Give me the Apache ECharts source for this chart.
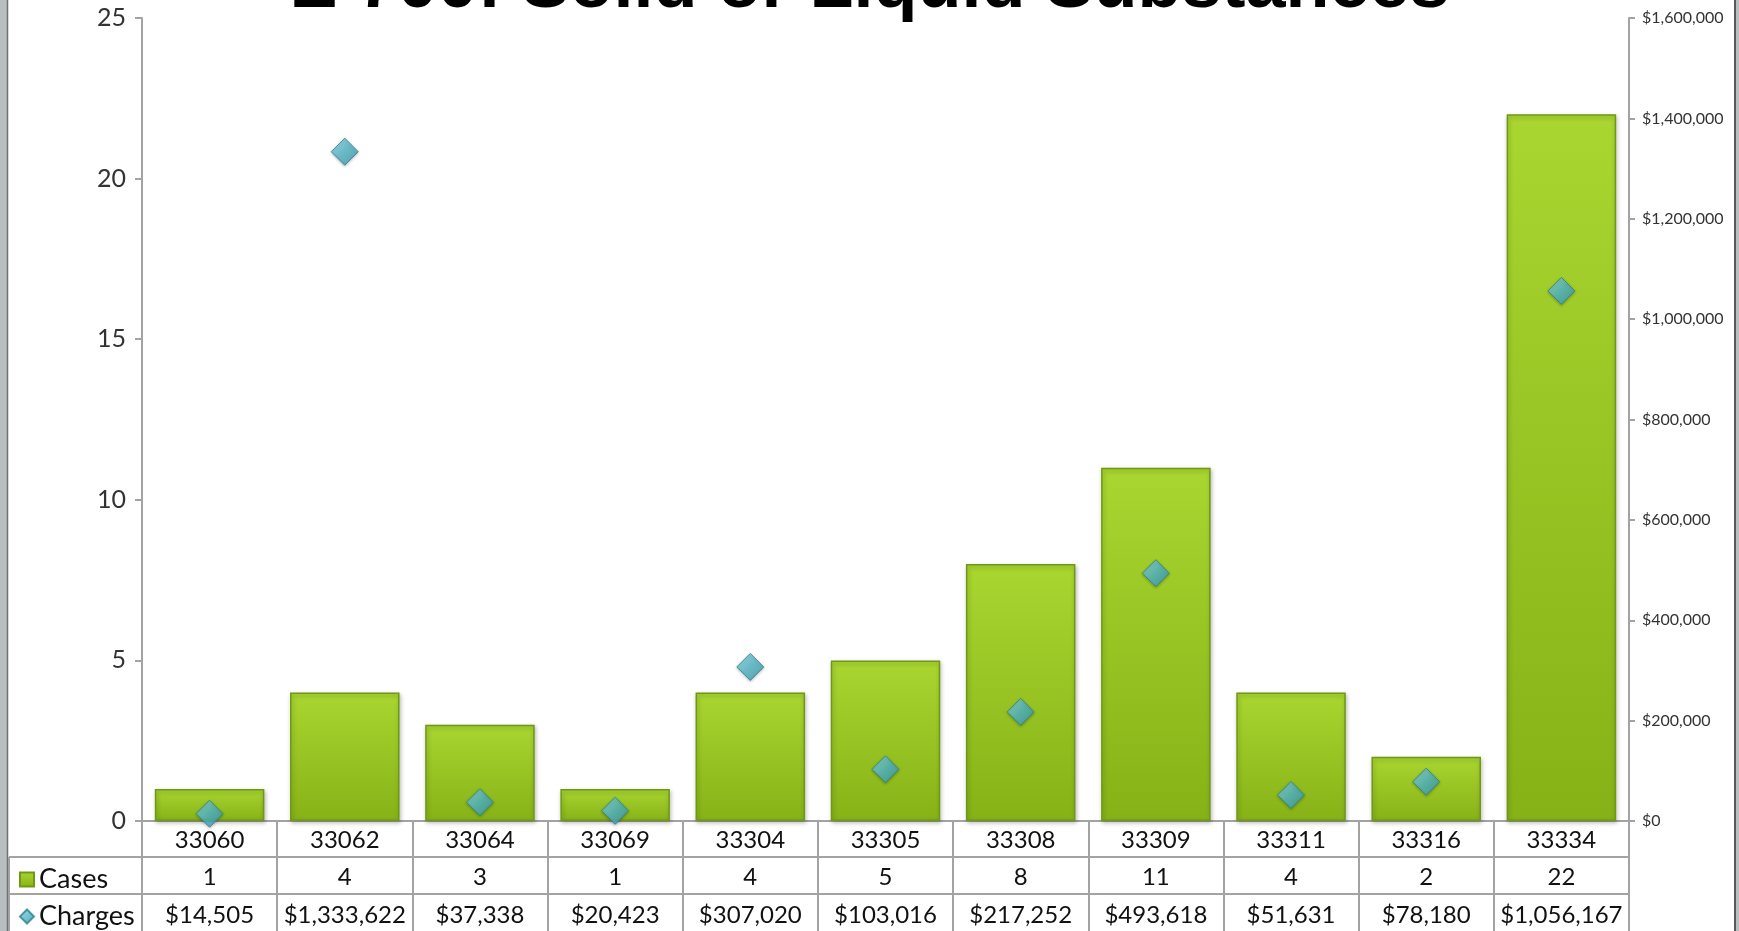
<!DOCTYPE html>
<html>
<head>
<meta charset="utf-8">
<script src="https://cdn.jsdelivr.net/npm/echarts@6/dist/echarts.min.js"></script>
<style>
html,body{margin:0;padding:0;background:#fff;}
#chart{width:1739px;height:931px;}
</style>
</head>
<body>
<div id="chart"></div>
<script>
const titleText = 'E 700: Solid or Liquid Substances';
const categories = ['33060','33062','33064','33069','33304','33305','33308','33309','33311','33316','33334'];
const cases = [1,4,3,1,4,5,8,11,4,2,22];
const charges = [14505,1333622,37338,20423,307020,103016,217252,493618,51631,78180,1056167];
const leftTicks = {min:0, max:25, interval:5};
const rightTicks = {min:0, max:1600000, interval:200000};

const fmtMoney = v => '$' + Math.round(v).toLocaleString('en-US');
const FONT = 'Lato, "Noto Sans", sans-serif';
const lineCol = '#a3a3a3';

const chart = echarts.init(document.getElementById('chart'));
const gridLeft = 142, gridRight = 1629, gridTop = 18, gridBottom = 821;

const legendCommon = {
  itemWidth: 14, itemHeight: 14, itemGap: 6, selectedMode: false,
  textStyle: {fontFamily: FONT, fontSize: 27, color: '#111'}
};

chart.setOption({
  backgroundColor: '#ffffff',
  animation: false,
  title: {
    text: titleText,
    left: 'center',
    top: -54,
    textStyle: {fontFamily: '"Liberation Sans", Arial, sans-serif', fontWeight: 'bold', fontSize: 72, color: '#000'}
  },
  legend: [
    Object.assign({left: 14, top: 861, data: [{name: 'Cases', icon: 'rect'}]}, legendCommon),
    Object.assign({left: 14, top: 898, data: [{name: 'Charges', icon: 'diamond'}]}, legendCommon)
  ],
  grid: {left: gridLeft, right: 1739 - gridRight, top: gridTop, bottom: 931 - gridBottom, containLabel: false},
  xAxis: [
    {
      type: 'category', data: categories, position: 'bottom',
      axisLine: {show: true, lineStyle: {color: lineCol, width: 2}},
      axisTick: {show: true, length: 110, lineStyle: {color: lineCol, width: 2}},
      axisLabel: {interval: 0, fontFamily: FONT, fontSize: 24, color: '#111', margin: 7}
    },
    {
      type: 'category', data: categories, position: 'bottom', offset: 37,
      axisLine: {show: false}, axisTick: {show: false},
      axisLabel: {interval: 0, hideOverlap: false, fontFamily: FONT, fontSize: 24, color: '#111', margin: 7,
        formatter: (v, i) => String(cases[i])}
    },
    {
      type: 'category', data: categories, position: 'bottom', offset: 75,
      axisLine: {show: false}, axisTick: {show: false},
      axisLabel: {interval: 0, hideOverlap: false, fontFamily: FONT, fontSize: 24, color: '#111', margin: 7,
        formatter: (v, i) => fmtMoney(charges[i])}
    }
  ],
  yAxis: [
    {
      type: 'value', position: 'left', min: leftTicks.min, max: leftTicks.max, interval: leftTicks.interval,
      axisLine: {show: true, lineStyle: {color: lineCol, width: 2}},
      axisTick: {show: true, length: 7, lineStyle: {color: lineCol, width: 2}},
      splitLine: {show: false},
      axisLabel: {fontFamily: FONT, fontSize: 25, color: '#333', margin: 16}
    },
    {
      type: 'value', position: 'right', min: rightTicks.min, max: rightTicks.max, interval: rightTicks.interval,
      axisLine: {show: true, lineStyle: {color: lineCol, width: 2}},
      axisTick: {show: true, length: 6, lineStyle: {color: lineCol, width: 2}},
      splitLine: {show: false},
      axisLabel: {fontFamily: FONT, fontSize: 16, color: '#333', margin: 13, formatter: fmtMoney}
    }
  ],
  series: [
    {
      name: 'Cases', type: 'bar', xAxisIndex: 0, yAxisIndex: 0, data: cases,
      barCategoryGap: '19%',
      itemStyle: {
        color: new echarts.graphic.LinearGradient(0, 0, 0, 1, [
          {offset: 0, color: '#a9d630'}, {offset: 1, color: '#86b217'}
        ]),
        borderColor: '#6f9912', borderWidth: 1.5,
        shadowColor: 'rgba(0,0,0,0.25)', shadowBlur: 4, shadowOffsetX: 1, shadowOffsetY: 2
      },
      z: 2
    },
    {
      name: 'Charges', type: 'scatter', xAxisIndex: 0, yAxisIndex: 1, data: charges,
      symbol: 'diamond', symbolSize: 27,
      itemStyle: {
        color: new echarts.graphic.LinearGradient(0, 0, 1, 1, [
          {offset: 0, color: '#8fdbe6'}, {offset: 0.5, color: '#52b6c7'}, {offset: 1, color: '#3a98aa'}
        ]),
        borderColor: '#2d7f90', borderWidth: 1,
        shadowColor: 'rgba(0,0,0,0.3)', shadowBlur: 3, shadowOffsetY: 1
      },
      z: 5
    }
  ],
  graphic: [
    {type: 'rect', shape: {x: 0, y: 0, width: 7, height: 931}, style: {fill: '#b9bec1'}, silent: true},
    {type: 'line', shape: {x1: 7.5, y1: 0, x2: 7.5, y2: 931}, style: {stroke: '#6e7275', lineWidth: 1.5}, silent: true},
    {type: 'rect', shape: {x: 1735, y: 0, width: 4, height: 931}, style: {fill: '#b9bec1'}, silent: true},
    {type: 'line', shape: {x1: 1735, y1: 0, x2: 1735, y2: 931}, style: {stroke: '#55595c', lineWidth: 2}, silent: true},
    {type: 'line', shape: {x1: 9, y1: 857, x2: gridRight, y2: 857}, style: {stroke: lineCol, lineWidth: 2}, silent: true},
    {type: 'line', shape: {x1: 9, y1: 894, x2: gridRight, y2: 894}, style: {stroke: lineCol, lineWidth: 2}, silent: true},
    {type: 'line', shape: {x1: 9, y1: 857, x2: 9, y2: 931}, style: {stroke: lineCol, lineWidth: 2}, silent: true}
  ]
});
</script>
</body>
</html>
